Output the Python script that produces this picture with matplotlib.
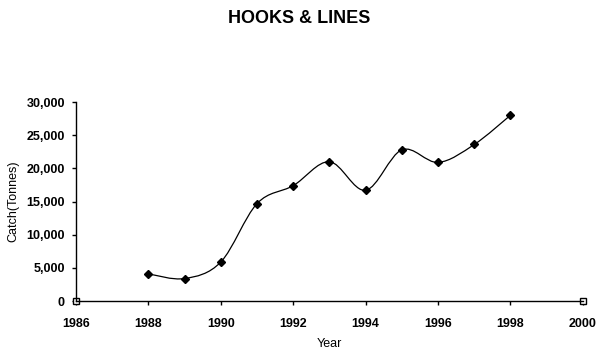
import matplotlib
matplotlib.use("Agg")
import matplotlib.pyplot as plt
from matplotlib.path import Path
from matplotlib.patches import PathPatch
from matplotlib.ticker import FuncFormatter
import numpy as np

years = [1988, 1989, 1990, 1991, 1992, 1993, 1994, 1995, 1996, 1997, 1998]
catch = [4100, 3400, 5900, 14700, 17400, 21000, 16700, 22800, 20900, 23600, 28000]
# small marks sitting at both ends of the x axis
end_years = [1986, 2000]
end_vals = [0, 0]

plt.rcParams['font.family'] = ['Liberation Sans', 'DejaVu Sans']

fig = plt.figure(figsize=(5.99, 3.53), dpi=100)
ax = fig.add_axes([0.127, 0.147, 0.846, 0.564])

# smoothed line like the spreadsheet one (bezier through the points)
x = np.array(years, dtype=float)
y = np.array(catch, dtype=float)
verts = [(x[0], y[0])]
codes = [Path.MOVETO]
for i in range(len(x) - 1):
    p0 = (x[i - 1], y[i - 1]) if i > 0 else (x[i], y[i])
    p3 = (x[i + 2], y[i + 2]) if i + 2 < len(x) else (x[i + 1], y[i + 1])
    c1 = (x[i] + (x[i + 1] - p0[0]) / 6, y[i] + (y[i + 1] - p0[1]) / 6)
    c2 = (x[i + 1] - (p3[0] - x[i]) / 6, y[i + 1] - (p3[1] - y[i]) / 6)
    verts += [c1, c2, (x[i + 1], y[i + 1])]
    codes += [Path.CURVE4] * 3
ax.add_patch(PathPatch(Path(verts, codes), facecolor='none', edgecolor='black', lw=0.9))
ax.plot(years, catch, linestyle='none', marker='D', markersize=4.5, color='black')
ax.plot(end_years, end_vals, linestyle='none', marker='s', markersize=4,
        markerfacecolor='white', markeredgecolor='black', markeredgewidth=1, clip_on=False)

ax.set_xlim(1986, 2000)
ax.set_ylim(0, 30000)
ax.set_xticks(range(1986, 2001, 2))
ax.set_yticks(range(0, 30001, 5000))
ax.yaxis.set_major_formatter(FuncFormatter(lambda v, p: f"{int(v):,}"))

for s in ['top', 'right']:
    ax.spines[s].set_visible(False)
for s in ['left', 'bottom']:
    ax.spines[s].set_linewidth(1.0)
ax.tick_params(direction='out', length=3, width=1, labelsize=9)
ax.tick_params(axis='x', pad=9)
ax.tick_params(axis='y', pad=5)
for lbl in ax.get_xticklabels() + ax.get_yticklabels():
    lbl.set_fontweight('bold')

ax.set_xlabel('Year', fontsize=9, labelpad=6)
ax.set_ylabel('Catch(Tonnes)', fontsize=9, labelpad=5)
fig.text(0.5, 0.948, 'HOOKS & LINES', ha='center', va='center', fontsize=13, fontweight='bold')

fig.savefig('out.png', dpi=100)
